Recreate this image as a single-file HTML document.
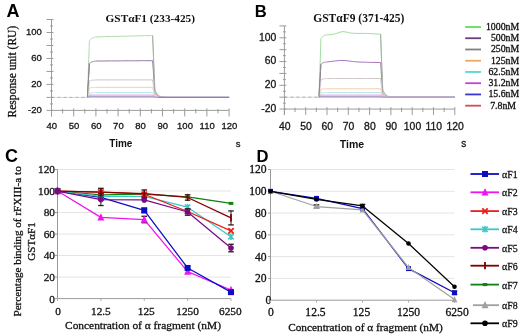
<!DOCTYPE html>
<html><head><meta charset="utf-8"><style>html,body{margin:0;padding:0;background:#fff;overflow:hidden;}svg{display:block;will-change:transform;} text:not([font-weight]){stroke:#111;stroke-width:0.3px;}</style></head>
<body><svg width="520" height="334" viewBox="0 0 520 334">
<rect width="520" height="334" fill="#fff"/>
<path d="M87.0,97.4 87.0,97.4 87.2,97.4 87.4,97.4 87.6,91.1 87.8,84.9 88.1,78.7 88.3,72.4 88.5,66.2 88.7,59.9 89.0,53.7 89.2,47.5 89.2,45.6 89.4,41.2 89.6,40.8 89.8,40.4 90.1,40.1 90.3,39.8 90.5,39.5 90.7,39.3 90.9,39.0 91.2,38.8 91.4,38.7 91.5,38.6 91.6,38.5 91.8,38.3 92.1,38.2 92.3,38.1 92.5,38.0 92.7,37.9 92.9,37.8 93.2,37.7 93.4,37.6 93.6,37.5 93.7,37.5 93.8,37.5 94.1,37.4 94.3,37.3 94.5,37.3 94.7,37.2 94.9,37.2 95.2,37.2 95.4,37.1 95.6,37.1 95.8,37.1 95.9,37.1 96.1,37.0 98.1,36.9 100.3,36.8 102.6,36.7 104.8,36.6 107.0,36.6 109.2,36.5 111.4,36.5 113.7,36.4 115.9,36.4 118.1,36.3 120.3,36.3 122.5,36.2 124.8,36.2 127.0,36.1 129.2,36.1 131.4,36.0 133.6,36.0 135.9,35.9 138.1,35.8 140.3,35.8 142.5,35.7 144.7,35.7 147.0,35.6 149.2,35.6 151.4,35.5 152.2,35.5 152.4,35.5 152.6,35.5 152.8,41.0 153.1,46.4 153.3,51.8 153.5,57.3 153.6,60.0 153.7,62.7 154.0,68.2 154.2,73.6 154.4,79.1 154.6,84.5 154.8,90.0 155.1,90.5 155.3,91.0 155.5,91.5 155.7,91.9 155.8,92.1 156.0,92.3 156.2,92.7 156.4,93.1 156.6,93.4 156.8,93.7 157.1,94.0 157.3,94.2 157.5,94.4 157.7,94.7 157.9,94.9 158.1,95.0 158.2,95.1 158.4,95.2 158.6,95.4 158.8,95.5 159.1,95.7 159.3,95.8 159.5,95.9 159.7,96.0 159.9,96.1 160.2,96.2 160.3,96.3 160.4,96.3 160.6,96.4 160.8,96.5 161.1,96.5 161.3,96.6 161.5,96.7 162.5,96.9 162.6,96.9 163.7,97.1 164.7,97.2 164.8,97.2 165.9,97.2 166.9,97.3 167.1,97.3 168.2,97.3 169.2,97.3 169.3,97.3 170.4,97.4 171.4,97.4 171.5,97.4 172.6,97.4 173.6,97.4 173.7,97.4 175.8,97.4 178.0,97.4 180.3,97.4 182.5,97.4 184.7,97.4 186.9,97.4 189.1,97.4 191.4,97.4 193.6,97.4 195.8,97.4 198.0,97.4 200.2,97.4 202.5,97.4 204.7,97.4 206.9,97.4 209.1,97.4 211.3,97.4 213.6,97.4 215.8,97.4 218.0,97.4 220.2,97.4 222.4,97.4 224.7,97.4 226.9,97.4 229.1,97.4" fill="none" stroke="#acdcac" stroke-width="1"/>
<path d="M87.0,97.4 87.0,97.4 87.2,97.4 87.4,97.4 87.6,93.6 87.8,89.9 88.1,86.1 88.3,82.4 88.5,78.6 88.7,74.9 89.0,71.1 89.2,67.3 89.2,66.2 89.4,63.6 89.6,63.3 89.8,63.1 90.1,62.9 90.3,62.7 90.5,62.6 90.7,62.4 90.9,62.3 91.2,62.2 91.4,62.1 91.5,62.0 91.6,62.0 91.8,61.9 92.1,61.8 92.3,61.7 92.5,61.7 92.7,61.6 92.9,61.5 93.2,61.5 93.4,61.4 93.6,61.4 93.7,61.4 93.8,61.4 94.1,61.3 94.3,61.3 94.5,61.3 94.7,61.2 94.9,61.2 95.2,61.2 95.4,61.2 95.6,61.2 95.8,61.1 95.9,61.1 96.1,61.1 98.1,61.0 100.3,61.0 102.6,61.0 104.8,61.0 107.0,60.9 109.2,60.9 111.4,60.9 113.7,60.9 115.9,60.9 118.1,60.9 120.3,60.9 122.5,60.8 124.8,60.8 127.0,60.8 129.2,60.8 131.4,60.8 133.6,60.8 135.9,60.8 138.1,60.8 140.3,60.7 142.5,60.7 144.7,60.7 147.0,60.7 149.2,60.7 151.4,60.7 152.2,60.7 152.4,60.7 152.6,60.7 152.8,63.9 153.1,67.1 153.3,70.4 153.5,73.6 153.6,75.2 153.7,76.8 154.0,80.1 154.2,83.3 154.4,86.5 154.6,89.8 154.8,93.0 155.1,93.3 155.3,93.6 155.5,93.9 155.7,94.2 155.8,94.3 156.0,94.4 156.2,94.6 156.4,94.8 156.6,95.0 156.8,95.2 157.1,95.4 157.3,95.5 157.5,95.6 157.7,95.8 157.9,95.9 158.1,96.0 158.2,96.0 158.4,96.1 158.6,96.2 158.8,96.3 159.1,96.4 159.3,96.5 159.5,96.5 159.7,96.6 159.9,96.6 160.2,96.7 160.3,96.7 160.4,96.8 160.6,96.8 160.8,96.8 161.1,96.9 161.3,96.9 161.5,97.0 162.5,97.1 162.6,97.1 163.7,97.2 164.7,97.3 164.8,97.3 165.9,97.3 166.9,97.3 167.1,97.3 168.2,97.4 169.2,97.4 169.3,97.4 170.4,97.4 171.4,97.4 171.5,97.4 172.6,97.4 173.6,97.4 173.7,97.4 175.8,97.4 178.0,97.4 180.3,97.4 182.5,97.4 184.7,97.4 186.9,97.4 189.1,97.4 191.4,97.4 193.6,97.4 195.8,97.4 198.0,97.4 200.2,97.4 202.5,97.4 204.7,97.4 206.9,97.4 209.1,97.4 211.3,97.4 213.6,97.4 215.8,97.4 218.0,97.4 220.2,97.4 222.4,97.4 224.7,97.4 226.9,97.4 229.1,97.4" fill="none" stroke="#9078a8" stroke-width="1"/>
<path d="M87.0,97.4 87.0,97.4 87.2,97.4 87.4,97.4 87.6,95.6 87.8,93.8 88.1,92.0 88.3,90.2 88.5,88.3 88.7,86.5 89.0,84.7 89.2,82.9 89.2,82.4 89.4,81.1 89.6,81.0 89.8,80.9 90.1,80.8 90.3,80.7 90.5,80.6 90.7,80.6 90.9,80.5 91.2,80.4 91.4,80.4 91.5,80.4 91.6,80.3 91.8,80.3 92.1,80.2 92.3,80.2 92.5,80.2 92.7,80.2 92.9,80.1 93.2,80.1 93.4,80.1 93.6,80.1 93.7,80.1 93.8,80.0 94.1,80.0 94.3,80.0 94.5,80.0 94.7,80.0 94.9,80.0 95.2,80.0 95.4,80.0 95.6,80.0 95.8,79.9 95.9,79.9 96.1,79.9 98.1,79.9 100.3,79.9 102.6,79.9 104.8,79.9 107.0,79.9 109.2,79.9 111.4,79.9 113.7,79.9 115.9,79.9 118.1,79.9 120.3,79.9 122.5,79.9 124.8,79.9 127.0,79.9 129.2,79.9 131.4,79.9 133.6,79.9 135.9,79.9 138.1,79.9 140.3,79.9 142.5,79.9 144.7,79.9 147.0,79.9 149.2,79.9 151.4,79.9 152.2,79.9 152.4,79.9 152.6,79.9 152.8,81.4 153.1,83.0 153.3,84.5 153.5,86.0 153.6,86.8 153.7,87.6 154.0,89.1 154.2,90.7 154.4,92.2 154.6,93.8 154.8,95.3 155.1,95.5 155.3,95.6 155.5,95.7 155.7,95.9 155.8,95.9 156.0,96.0 156.2,96.1 156.4,96.2 156.6,96.3 156.8,96.3 157.1,96.4 157.3,96.5 157.5,96.6 157.7,96.6 157.9,96.7 158.1,96.7 158.2,96.7 158.4,96.8 158.6,96.8 158.8,96.9 159.1,96.9 159.3,96.9 159.5,97.0 159.7,97.0 159.9,97.0 160.2,97.1 160.3,97.1 160.4,97.1 160.6,97.1 160.8,97.1 161.1,97.2 161.3,97.2 161.5,97.2 162.5,97.3 162.6,97.3 163.7,97.3 164.7,97.3 164.8,97.3 165.9,97.4 166.9,97.4 167.1,97.4 168.2,97.4 169.2,97.4 169.3,97.4 170.4,97.4 171.4,97.4 171.5,97.4 172.6,97.4 173.6,97.4 173.7,97.4 175.8,97.4 178.0,97.4 180.3,97.4 182.5,97.4 184.7,97.4 186.9,97.4 189.1,97.4 191.4,97.4 193.6,97.4 195.8,97.4 198.0,97.4 200.2,97.4 202.5,97.4 204.7,97.4 206.9,97.4 209.1,97.4 211.3,97.4 213.6,97.4 215.8,97.4 218.0,97.4 220.2,97.4 222.4,97.4 224.7,97.4 226.9,97.4 229.1,97.4" fill="none" stroke="#ccc4c4" stroke-width="1"/>
<path d="M87.0,97.4 87.0,97.4 87.2,97.4 87.4,97.4 87.6,96.4 87.8,95.3 88.1,94.3 88.3,93.2 88.5,92.2 88.7,91.2 89.0,90.1 89.2,89.1 89.2,88.8 89.4,88.0 89.6,88.0 89.8,87.9 90.1,87.9 90.3,87.8 90.5,87.8 90.7,87.7 90.9,87.7 91.2,87.7 91.4,87.6 91.5,87.6 91.6,87.6 91.8,87.6 92.1,87.6 92.3,87.5 92.5,87.5 92.7,87.5 92.9,87.5 93.2,87.5 93.4,87.5 93.6,87.4 93.7,87.4 93.8,87.4 94.1,87.4 94.3,87.4 94.5,87.4 94.7,87.4 94.9,87.4 95.2,87.4 95.4,87.4 95.6,87.4 95.8,87.4 95.9,87.4 96.1,87.4 98.1,87.4 100.3,87.3 102.6,87.3 104.8,87.3 107.0,87.3 109.2,87.3 111.4,87.3 113.7,87.3 115.9,87.3 118.1,87.3 120.3,87.3 122.5,87.3 124.8,87.3 127.0,87.3 129.2,87.3 131.4,87.3 133.6,87.3 135.9,87.3 138.1,87.3 140.3,87.3 142.5,87.3 144.7,87.3 147.0,87.3 149.2,87.3 151.4,87.3 152.2,87.3 152.4,87.3 152.6,87.3 152.8,88.2 153.1,89.1 153.3,90.0 153.5,90.9 153.6,91.3 153.7,91.8 154.0,92.7 154.2,93.5 154.4,94.4 154.6,95.3 154.8,96.2 155.1,96.3 155.3,96.4 155.5,96.4 155.7,96.5 155.8,96.5 156.0,96.6 156.2,96.6 156.4,96.7 156.6,96.7 156.8,96.8 157.1,96.8 157.3,96.9 157.5,96.9 157.7,97.0 157.9,97.0 158.1,97.0 158.2,97.0 158.4,97.0 158.6,97.1 158.8,97.1 159.1,97.1 159.3,97.1 159.5,97.2 159.7,97.2 159.9,97.2 160.2,97.2 160.3,97.2 160.4,97.2 160.6,97.2 160.8,97.2 161.1,97.3 161.3,97.3 161.5,97.3 162.5,97.3 162.6,97.3 163.7,97.3 164.7,97.4 164.8,97.4 165.9,97.4 166.9,97.4 167.1,97.4 168.2,97.4 169.2,97.4 169.3,97.4 170.4,97.4 171.4,97.4 171.5,97.4 172.6,97.4 173.6,97.4 173.7,97.4 175.8,97.4 178.0,97.4 180.3,97.4 182.5,97.4 184.7,97.4 186.9,97.4 189.1,97.4 191.4,97.4 193.6,97.4 195.8,97.4 198.0,97.4 200.2,97.4 202.5,97.4 204.7,97.4 206.9,97.4 209.1,97.4 211.3,97.4 213.6,97.4 215.8,97.4 218.0,97.4 220.2,97.4 222.4,97.4 224.7,97.4 226.9,97.4 229.1,97.4" fill="none" stroke="#f2cca8" stroke-width="1"/>
<path d="M87.0,97.4 87.0,97.4 87.2,97.4 87.4,97.4 87.6,96.9 87.8,96.4 88.1,95.9 88.3,95.4 88.5,94.9 88.7,94.4 89.0,93.9 89.2,93.4 89.2,93.3 89.4,92.9 89.6,92.9 89.8,92.9 90.1,92.8 90.3,92.8 90.5,92.8 90.7,92.8 90.9,92.8 91.2,92.7 91.4,92.7 91.5,92.7 91.6,92.7 91.8,92.7 92.1,92.7 92.3,92.7 92.5,92.7 92.7,92.7 92.9,92.7 93.2,92.7 93.4,92.7 93.6,92.6 93.7,92.6 93.8,92.6 94.1,92.6 94.3,92.6 94.5,92.6 94.7,92.6 94.9,92.6 95.2,92.6 95.4,92.6 95.6,92.6 95.8,92.6 95.9,92.6 96.1,92.6 98.1,92.6 100.3,92.6 102.6,92.6 104.8,92.6 107.0,92.6 109.2,92.6 111.4,92.6 113.7,92.6 115.9,92.6 118.1,92.6 120.3,92.6 122.5,92.6 124.8,92.6 127.0,92.6 129.2,92.6 131.4,92.6 133.6,92.6 135.9,92.6 138.1,92.6 140.3,92.6 142.5,92.6 144.7,92.6 147.0,92.6 149.2,92.6 151.4,92.6 152.2,92.6 152.4,92.6 152.6,92.6 152.8,93.0 153.1,93.4 153.3,93.9 153.5,94.3 153.6,94.5 153.7,94.7 154.0,95.1 154.2,95.6 154.4,96.0 154.6,96.4 154.8,96.8 155.1,96.9 155.3,96.9 155.5,96.9 155.7,97.0 155.8,97.0 156.0,97.0 156.2,97.0 156.4,97.1 156.6,97.1 156.8,97.1 157.1,97.1 157.3,97.2 157.5,97.2 157.7,97.2 157.9,97.2 158.1,97.2 158.2,97.2 158.4,97.2 158.6,97.2 158.8,97.3 159.1,97.3 159.3,97.3 159.5,97.3 159.7,97.3 159.9,97.3 160.2,97.3 160.3,97.3 160.4,97.3 160.6,97.3 160.8,97.3 161.1,97.3 161.3,97.3 161.5,97.3 162.5,97.4 162.6,97.4 163.7,97.4 164.7,97.4 164.8,97.4 165.9,97.4 166.9,97.4 167.1,97.4 168.2,97.4 169.2,97.4 169.3,97.4 170.4,97.4 171.4,97.4 171.5,97.4 172.6,97.4 173.6,97.4 173.7,97.4 175.8,97.4 178.0,97.4 180.3,97.4 182.5,97.4 184.7,97.4 186.9,97.4 189.1,97.4 191.4,97.4 193.6,97.4 195.8,97.4 198.0,97.4 200.2,97.4 202.5,97.4 204.7,97.4 206.9,97.4 209.1,97.4 211.3,97.4 213.6,97.4 215.8,97.4 218.0,97.4 220.2,97.4 222.4,97.4 224.7,97.4 226.9,97.4 229.1,97.4" fill="none" stroke="#ace6e6" stroke-width="1"/>
<path d="M87.0,97.4 87.0,97.4 87.2,97.4 87.4,97.4 87.6,97.2 87.8,96.9 88.1,96.7 88.3,96.4 88.5,96.2 88.7,95.9 89.0,95.7 89.2,95.4 89.2,95.3 89.4,95.2 89.6,95.2 89.8,95.1 90.1,95.1 90.3,95.1 90.5,95.1 90.7,95.1 90.9,95.1 91.2,95.1 91.4,95.1 91.5,95.1 91.6,95.1 91.8,95.1 92.1,95.0 92.3,95.0 92.5,95.0 92.7,95.0 92.9,95.0 93.2,95.0 93.4,95.0 93.6,95.0 93.7,95.0 93.8,95.0 94.1,95.0 94.3,95.0 94.5,95.0 94.7,95.0 94.9,95.0 95.2,95.0 95.4,95.0 95.6,95.0 95.8,95.0 95.9,95.0 96.1,95.0 98.1,95.0 100.3,95.0 102.6,95.0 104.8,95.0 107.0,95.0 109.2,95.0 111.4,95.0 113.7,95.0 115.9,95.0 118.1,95.0 120.3,95.0 122.5,95.0 124.8,95.0 127.0,95.0 129.2,95.0 131.4,95.0 133.6,95.0 135.9,95.0 138.1,95.0 140.3,95.0 142.5,95.0 144.7,95.0 147.0,95.0 149.2,95.0 151.4,95.0 152.2,95.0 152.4,95.0 152.6,95.0 152.8,95.2 153.1,95.4 153.3,95.6 153.5,95.8 153.6,95.9 153.7,96.1 154.0,96.3 154.2,96.5 154.4,96.7 154.6,96.9 154.8,97.1 155.1,97.1 155.3,97.2 155.5,97.2 155.7,97.2 155.8,97.2 156.0,97.2 156.2,97.2 156.4,97.2 156.6,97.2 156.8,97.3 157.1,97.3 157.3,97.3 157.5,97.3 157.7,97.3 157.9,97.3 158.1,97.3 158.2,97.3 158.4,97.3 158.6,97.3 158.8,97.3 159.1,97.3 159.3,97.3 159.5,97.3 159.7,97.3 159.9,97.4 160.2,97.4 160.3,97.4 160.4,97.4 160.6,97.4 160.8,97.4 161.1,97.4 161.3,97.4 161.5,97.4 162.5,97.4 162.6,97.4 163.7,97.4 164.7,97.4 164.8,97.4 165.9,97.4 166.9,97.4 167.1,97.4 168.2,97.4 169.2,97.4 169.3,97.4 170.4,97.4 171.4,97.4 171.5,97.4 172.6,97.4 173.6,97.4 173.7,97.4 175.8,97.4 178.0,97.4 180.3,97.4 182.5,97.4 184.7,97.4 186.9,97.4 189.1,97.4 191.4,97.4 193.6,97.4 195.8,97.4 198.0,97.4 200.2,97.4 202.5,97.4 204.7,97.4 206.9,97.4 209.1,97.4 211.3,97.4 213.6,97.4 215.8,97.4 218.0,97.4 220.2,97.4 222.4,97.4 224.7,97.4 226.9,97.4 229.1,97.4" fill="none" stroke="#e4b0ea" stroke-width="1.2"/>
<path d="M87.0,97.4 87.0,97.4 87.2,97.4 87.4,97.4 87.6,97.3 87.8,97.2 88.1,97.1 88.3,97.0 88.5,96.9 88.7,96.8 89.0,96.7 89.2,96.6 89.2,96.6 89.4,96.6 89.6,96.5 89.8,96.5 90.1,96.5 90.3,96.5 90.5,96.5 90.7,96.5 90.9,96.5 91.2,96.5 91.4,96.5 91.5,96.5 91.6,96.5 91.8,96.5 92.1,96.5 92.3,96.5 92.5,96.5 92.7,96.5 92.9,96.5 93.2,96.5 93.4,96.5 93.6,96.5 93.7,96.5 93.8,96.5 94.1,96.5 94.3,96.5 94.5,96.5 94.7,96.5 94.9,96.5 95.2,96.5 95.4,96.5 95.6,96.5 95.8,96.5 95.9,96.5 96.1,96.5 98.1,96.5 100.3,96.5 102.6,96.5 104.8,96.5 107.0,96.5 109.2,96.5 111.4,96.5 113.7,96.5 115.9,96.5 118.1,96.5 120.3,96.5 122.5,96.5 124.8,96.5 127.0,96.5 129.2,96.5 131.4,96.5 133.6,96.5 135.9,96.5 138.1,96.5 140.3,96.5 142.5,96.5 144.7,96.5 147.0,96.5 149.2,96.5 151.4,96.5 152.2,96.5 152.4,96.5 152.6,96.5 152.8,96.6 153.1,96.7 153.3,96.7 153.5,96.8 153.6,96.9 153.7,96.9 154.0,97.0 154.2,97.1 154.4,97.1 154.6,97.2 154.8,97.3 155.1,97.3 155.3,97.3 155.5,97.3 155.7,97.3 155.8,97.3 156.0,97.3 156.2,97.3 156.4,97.3 156.6,97.3 156.8,97.3 157.1,97.3 157.3,97.4 157.5,97.4 157.7,97.4 157.9,97.4 158.1,97.4 158.2,97.4 158.4,97.4 158.6,97.4 158.8,97.4 159.1,97.4 159.3,97.4 159.5,97.4 159.7,97.4 159.9,97.4 160.2,97.4 160.3,97.4 160.4,97.4 160.6,97.4 160.8,97.4 161.1,97.4 161.3,97.4 161.5,97.4 162.5,97.4 162.6,97.4 163.7,97.4 164.7,97.4 164.8,97.4 165.9,97.4 166.9,97.4 167.1,97.4 168.2,97.4 169.2,97.4 169.3,97.4 170.4,97.4 171.4,97.4 171.5,97.4 172.6,97.4 173.6,97.4 173.7,97.4 175.8,97.4 178.0,97.4 180.3,97.4 182.5,97.4 184.7,97.4 186.9,97.4 189.1,97.4 191.4,97.4 193.6,97.4 195.8,97.4 198.0,97.4 200.2,97.4 202.5,97.4 204.7,97.4 206.9,97.4 209.1,97.4 211.3,97.4 213.6,97.4 215.8,97.4 218.0,97.4 220.2,97.4 222.4,97.4 224.7,97.4 226.9,97.4 229.1,97.4" fill="none" stroke="#aaa2dc" stroke-width="1.3"/>
<path d="M87.0,97.4 87.0,97.4 87.2,97.4 87.4,97.4 87.6,97.4 87.8,97.3 88.1,97.3 88.3,97.3 88.5,97.3 88.7,97.2 89.0,97.2 89.2,97.2 89.2,97.2 89.4,97.2 89.6,97.2 89.8,97.2 90.1,97.2 90.3,97.2 90.5,97.2 90.7,97.2 90.9,97.1 91.2,97.1 91.4,97.1 91.5,97.1 91.6,97.1 91.8,97.1 92.1,97.1 92.3,97.1 92.5,97.1 92.7,97.1 92.9,97.1 93.2,97.1 93.4,97.1 93.6,97.1 93.7,97.1 93.8,97.1 94.1,97.1 94.3,97.1 94.5,97.1 94.7,97.1 94.9,97.1 95.2,97.1 95.4,97.1 95.6,97.1 95.8,97.1 95.9,97.1 96.1,97.1 98.1,97.1 100.3,97.1 102.6,97.1 104.8,97.1 107.0,97.1 109.2,97.1 111.4,97.1 113.7,97.1 115.9,97.1 118.1,97.1 120.3,97.1 122.5,97.1 124.8,97.1 127.0,97.1 129.2,97.1 131.4,97.1 133.6,97.1 135.9,97.1 138.1,97.1 140.3,97.1 142.5,97.1 144.7,97.1 147.0,97.1 149.2,97.1 151.4,97.1 152.2,97.1 152.4,97.1 152.6,97.1 152.8,97.2 153.1,97.2 153.3,97.2 153.5,97.2 153.6,97.2 153.7,97.3 154.0,97.3 154.2,97.3 154.4,97.3 154.6,97.3 154.8,97.4 155.1,97.4 155.3,97.4 155.5,97.4 155.7,97.4 155.8,97.4 156.0,97.4 156.2,97.4 156.4,97.4 156.6,97.4 156.8,97.4 157.1,97.4 157.3,97.4 157.5,97.4 157.7,97.4 157.9,97.4 158.1,97.4 158.2,97.4 158.4,97.4 158.6,97.4 158.8,97.4 159.1,97.4 159.3,97.4 159.5,97.4 159.7,97.4 159.9,97.4 160.2,97.4 160.3,97.4 160.4,97.4 160.6,97.4 160.8,97.4 161.1,97.4 161.3,97.4 161.5,97.4 162.5,97.4 162.6,97.4 163.7,97.4 164.7,97.4 164.8,97.4 165.9,97.4 166.9,97.4 167.1,97.4 168.2,97.4 169.2,97.4 169.3,97.4 170.4,97.4 171.4,97.4 171.5,97.4 172.6,97.4 173.6,97.4 173.7,97.4 175.8,97.4 178.0,97.4 180.3,97.4 182.5,97.4 184.7,97.4 186.9,97.4 189.1,97.4 191.4,97.4 193.6,97.4 195.8,97.4 198.0,97.4 200.2,97.4 202.5,97.4 204.7,97.4 206.9,97.4 209.1,97.4 211.3,97.4 213.6,97.4 215.8,97.4 218.0,97.4 220.2,97.4 222.4,97.4 224.7,97.4 226.9,97.4 229.1,97.4" fill="none" stroke="#c0a8b8" stroke-width="1"/>
<path d="M87.0,97.4 87.0,97.4 87.2,97.4 87.4,97.4 87.6,93.6 87.8,89.9 88.1,86.1 88.3,82.4 88.5,78.6 88.7,74.9 89.0,71.1 89.2,67.3 89.2,66.2 89.4,63.6" fill="none" stroke="#888888" stroke-width="1"/>
<path d="M152.6,35.5 152.8,41.0 153.1,46.4 153.3,51.8 153.5,57.3 153.6,60.0 153.7,62.7 154.0,68.2 154.2,73.6 154.4,79.1 154.6,84.5 154.8,90.0 155.1,90.5 155.3,91.0 155.5,91.5 155.7,91.9 155.8,92.1 156.0,92.3 156.2,92.7 156.4,93.1 156.6,93.4 156.8,93.7 157.1,94.0 157.3,94.2 157.5,94.4 157.7,94.7 157.9,94.9 158.1,95.0 158.2,95.1" fill="none" stroke="#a8aca8" stroke-width="1"/>
<line x1="51.50" y1="97.40" x2="87.40" y2="97.40" stroke="#d4e4d4" stroke-width="1" />
<line x1="51.50" y1="97.40" x2="87.40" y2="97.40" stroke="#b0b0b0" stroke-width="1" stroke-dasharray="3 3"/>
<line x1="158.17" y1="97.40" x2="229.10" y2="97.40" stroke="#8c8094" stroke-width="1" />
<line x1="51.50" y1="19.52" x2="51.50" y2="116.38" stroke="#9c9c9c" stroke-width="1" />
<line x1="51.50" y1="110.38" x2="229.10" y2="110.38" stroke="#9c9c9c" stroke-width="1" />
<line x1="46.50" y1="110.38" x2="53.50" y2="110.38" stroke="#9c9c9c" stroke-width="1" />
<line x1="50.00" y1="103.89" x2="53.00" y2="103.89" stroke="#9c9c9c" stroke-width="1" />
<line x1="46.50" y1="97.40" x2="53.50" y2="97.40" stroke="#9c9c9c" stroke-width="1" />
<line x1="50.00" y1="90.91" x2="53.00" y2="90.91" stroke="#9c9c9c" stroke-width="1" />
<line x1="46.50" y1="84.42" x2="53.50" y2="84.42" stroke="#9c9c9c" stroke-width="1" />
<line x1="50.00" y1="77.93" x2="53.00" y2="77.93" stroke="#9c9c9c" stroke-width="1" />
<line x1="46.50" y1="71.44" x2="53.50" y2="71.44" stroke="#9c9c9c" stroke-width="1" />
<line x1="50.00" y1="64.95" x2="53.00" y2="64.95" stroke="#9c9c9c" stroke-width="1" />
<line x1="46.50" y1="58.46" x2="53.50" y2="58.46" stroke="#9c9c9c" stroke-width="1" />
<line x1="50.00" y1="51.97" x2="53.00" y2="51.97" stroke="#9c9c9c" stroke-width="1" />
<line x1="46.50" y1="45.48" x2="53.50" y2="45.48" stroke="#9c9c9c" stroke-width="1" />
<line x1="50.00" y1="38.99" x2="53.00" y2="38.99" stroke="#9c9c9c" stroke-width="1" />
<line x1="46.50" y1="32.50" x2="53.50" y2="32.50" stroke="#9c9c9c" stroke-width="1" />
<line x1="50.00" y1="26.01" x2="53.00" y2="26.01" stroke="#9c9c9c" stroke-width="1" />
<line x1="46.50" y1="19.52" x2="53.50" y2="19.52" stroke="#9c9c9c" stroke-width="1" />
<text x="41.80" y="35.10" font-family='"Liberation Sans", sans-serif' font-size="9.5" text-anchor="end" fill="#1a1a1a" >100</text>
<text x="41.80" y="61.06" font-family='"Liberation Sans", sans-serif' font-size="9.5" text-anchor="end" fill="#1a1a1a" >60</text>
<text x="41.80" y="87.02" font-family='"Liberation Sans", sans-serif' font-size="9.5" text-anchor="end" fill="#1a1a1a" >20</text>
<text x="41.80" y="112.98" font-family='"Liberation Sans", sans-serif' font-size="9.5" text-anchor="end" fill="#1a1a1a" >-20</text>
<line x1="51.50" y1="108.38" x2="51.50" y2="116.38" stroke="#9c9c9c" stroke-width="1" />
<text x="51.80" y="129.10" font-family='"Liberation Sans", sans-serif' font-size="9.5" text-anchor="middle" fill="#1a1a1a" >40</text>
<line x1="62.60" y1="108.88" x2="62.60" y2="113.38" stroke="#9c9c9c" stroke-width="1" />
<line x1="73.70" y1="108.38" x2="73.70" y2="116.38" stroke="#9c9c9c" stroke-width="1" />
<text x="74.00" y="129.10" font-family='"Liberation Sans", sans-serif' font-size="9.5" text-anchor="middle" fill="#1a1a1a" >50</text>
<line x1="84.80" y1="108.88" x2="84.80" y2="113.38" stroke="#9c9c9c" stroke-width="1" />
<line x1="95.90" y1="108.38" x2="95.90" y2="116.38" stroke="#9c9c9c" stroke-width="1" />
<text x="96.20" y="129.10" font-family='"Liberation Sans", sans-serif' font-size="9.5" text-anchor="middle" fill="#1a1a1a" >60</text>
<line x1="107.00" y1="108.88" x2="107.00" y2="113.38" stroke="#9c9c9c" stroke-width="1" />
<line x1="118.10" y1="108.38" x2="118.10" y2="116.38" stroke="#9c9c9c" stroke-width="1" />
<text x="118.40" y="129.10" font-family='"Liberation Sans", sans-serif' font-size="9.5" text-anchor="middle" fill="#1a1a1a" >70</text>
<line x1="129.20" y1="108.88" x2="129.20" y2="113.38" stroke="#9c9c9c" stroke-width="1" />
<line x1="140.30" y1="108.38" x2="140.30" y2="116.38" stroke="#9c9c9c" stroke-width="1" />
<text x="140.60" y="129.10" font-family='"Liberation Sans", sans-serif' font-size="9.5" text-anchor="middle" fill="#1a1a1a" >80</text>
<line x1="151.40" y1="108.88" x2="151.40" y2="113.38" stroke="#9c9c9c" stroke-width="1" />
<line x1="162.50" y1="108.38" x2="162.50" y2="116.38" stroke="#9c9c9c" stroke-width="1" />
<text x="162.80" y="129.10" font-family='"Liberation Sans", sans-serif' font-size="9.5" text-anchor="middle" fill="#1a1a1a" >90</text>
<line x1="173.60" y1="108.88" x2="173.60" y2="113.38" stroke="#9c9c9c" stroke-width="1" />
<line x1="184.70" y1="108.38" x2="184.70" y2="116.38" stroke="#9c9c9c" stroke-width="1" />
<text x="185.00" y="129.10" font-family='"Liberation Sans", sans-serif' font-size="9.5" text-anchor="middle" fill="#1a1a1a" >100</text>
<line x1="195.80" y1="108.88" x2="195.80" y2="113.38" stroke="#9c9c9c" stroke-width="1" />
<line x1="206.90" y1="108.38" x2="206.90" y2="116.38" stroke="#9c9c9c" stroke-width="1" />
<text x="207.20" y="129.10" font-family='"Liberation Sans", sans-serif' font-size="9.5" text-anchor="middle" fill="#1a1a1a" >110</text>
<line x1="218.00" y1="108.88" x2="218.00" y2="113.38" stroke="#9c9c9c" stroke-width="1" />
<line x1="229.10" y1="108.38" x2="229.10" y2="116.38" stroke="#9c9c9c" stroke-width="1" />
<text x="229.40" y="129.10" font-family='"Liberation Sans", sans-serif' font-size="9.5" text-anchor="middle" fill="#1a1a1a" >120</text>
<text x="120.80" y="146.80" font-family='"Liberation Sans", sans-serif' font-size="10" font-weight="bold" text-anchor="middle" fill="#111" >Time</text>
<text x="238.00" y="146.50" font-family='"Liberation Sans", sans-serif' font-size="9.5" text-anchor="middle" fill="#222" >s</text>
<text x="150.30" y="22.30" font-family='"Liberation Serif", serif' font-size="11.3" font-weight="bold" text-anchor="middle" fill="#111" >GSTαF1 (233-425)</text>
<text x="6.40" y="16.60" font-family='"Liberation Sans", sans-serif' font-size="18" font-weight="bold" fill="#000" >A</text>
<path d="M318.5,97.2 318.6,97.2 318.8,97.2 319.0,97.0 319.2,90.5 319.4,84.1 319.6,77.6 319.8,71.2 320.1,64.7 320.3,58.3 320.5,51.8 320.6,48.0 320.7,45.4 320.9,39.0 321.1,38.5 321.3,38.2 321.5,37.8 321.8,37.5 322.0,37.2 322.2,37.0 322.4,36.8 322.6,36.6 322.7,36.4 322.8,36.4 323.0,36.2 323.3,36.0 323.5,35.9 323.7,35.8 323.9,35.7 324.1,35.6 324.3,35.5 324.5,35.4 324.7,35.3 324.9,35.3 325.0,35.2 325.2,35.2 325.4,35.1 325.6,35.1 325.8,35.0 326.0,35.0 326.2,34.9 326.4,34.9 326.7,34.9 326.9,34.9 327.0,34.8 327.1,34.8 327.3,34.8 329.1,34.7 331.3,34.6 333.4,34.2 335.5,33.7 337.6,33.0 339.8,32.3 341.9,31.7 344.0,31.7 346.2,32.1 348.3,32.5 350.4,33.0 352.6,33.2 354.7,33.3 356.8,33.4 358.9,33.4 361.1,33.4 363.2,33.4 365.3,33.4 367.5,33.5 369.6,33.6 371.7,33.7 373.9,33.8 376.0,34.0 378.1,34.1 380.1,34.2 380.2,34.2 380.4,34.2 380.6,34.2 380.8,39.7 381.0,45.3 381.2,50.8 381.4,56.4 381.6,61.9 381.8,67.5 382.1,73.0 382.3,78.5 382.4,81.3 382.5,84.1 382.7,89.6 382.9,90.2 383.1,90.7 383.3,91.2 383.6,91.6 383.8,92.1 384.0,92.4 384.2,92.8 384.4,93.1 384.5,93.3 384.6,93.4 384.8,93.7 385.0,94.0 385.3,94.2 385.5,94.4 385.7,94.6 385.9,94.8 386.1,95.0 386.3,95.2 386.5,95.3 386.6,95.4 386.7,95.4 387.0,95.6 387.2,95.7 387.4,95.8 387.6,95.9 387.8,96.0 388.0,96.1 388.2,96.2 388.5,96.3 388.7,96.3 388.8,96.4 388.9,96.4 389.1,96.4 390.2,96.7 390.9,96.8 391.2,96.9 392.3,97.0 393.0,97.0 393.3,97.0 394.4,97.1 395.2,97.1 395.5,97.1 396.5,97.1 397.3,97.2 397.6,97.2 398.7,97.2 399.4,97.2 399.7,97.2 400.8,97.2 401.5,97.2 403.7,97.2 405.8,97.2 407.9,97.2 410.1,97.2 412.2,97.2 414.3,97.2 416.5,97.2 418.6,97.2 420.7,97.2 422.8,97.2 425.0,97.2 427.1,97.2 429.2,97.2 431.4,97.2 433.5,97.2 435.6,97.2 437.8,97.2 439.9,97.2 442.0,97.2 444.1,97.2 446.3,97.2 448.4,97.2 450.5,97.2 452.7,97.2 454.8,97.2" fill="none" stroke="#a0dca0" stroke-width="1"/>
<path d="M318.5,97.2 318.6,97.2 318.8,97.2 319.0,96.4 319.2,92.9 319.4,89.3 319.6,85.7 319.8,82.2 320.1,78.6 320.3,75.0 320.5,71.5 320.6,69.3 320.7,67.9 320.9,64.4 321.1,64.1 321.3,63.9 321.5,63.7 321.8,63.5 322.0,63.4 322.2,63.2 322.4,63.1 322.6,63.0 322.7,62.9 322.8,62.9 323.0,62.8 323.3,62.7 323.5,62.6 323.7,62.6 323.9,62.5 324.1,62.4 324.3,62.4 324.5,62.3 324.7,62.3 324.9,62.2 325.0,62.2 325.2,62.2 325.4,62.1 325.6,62.1 325.8,62.1 326.0,62.0 326.2,62.0 326.4,62.0 326.7,61.9 326.9,61.9 327.0,61.9 327.1,61.9 327.3,61.9 329.1,61.7 331.3,61.4 333.4,61.2 335.5,60.9 337.6,60.7 339.8,60.5 341.9,60.4 344.0,60.5 346.2,60.7 348.3,60.9 350.4,61.2 352.6,61.5 354.7,61.7 356.8,61.9 358.9,62.0 361.1,62.1 363.2,62.2 365.3,62.2 367.5,62.3 369.6,62.3 371.7,62.4 373.9,62.4 376.0,62.4 378.1,62.5 380.1,62.5 380.2,62.5 380.4,62.5 380.6,62.5 380.8,65.6 381.0,68.6 381.2,71.7 381.4,74.7 381.6,77.8 381.8,80.8 382.1,83.9 382.3,86.9 382.4,88.5 382.5,90.0 382.7,93.0 382.9,93.3 383.1,93.6 383.3,93.9 383.6,94.1 383.8,94.4 384.0,94.6 384.2,94.8 384.4,95.0 384.5,95.0 384.6,95.1 384.8,95.3 385.0,95.4 385.3,95.5 385.5,95.7 385.7,95.8 385.9,95.9 386.1,96.0 386.3,96.1 386.5,96.2 386.6,96.2 386.7,96.2 387.0,96.3 387.2,96.4 387.4,96.4 387.6,96.5 387.8,96.5 388.0,96.6 388.2,96.6 388.5,96.7 388.7,96.7 388.8,96.7 388.9,96.8 389.1,96.8 390.2,96.9 390.9,97.0 391.2,97.0 392.3,97.1 393.0,97.1 393.3,97.1 394.4,97.1 395.2,97.2 395.5,97.2 396.5,97.2 397.3,97.2 397.6,97.2 398.7,97.2 399.4,97.2 399.7,97.2 400.8,97.2 401.5,97.2 403.7,97.2 405.8,97.2 407.9,97.2 410.1,97.2 412.2,97.2 414.3,97.2 416.5,97.2 418.6,97.2 420.7,97.2 422.8,97.2 425.0,97.2 427.1,97.2 429.2,97.2 431.4,97.2 433.5,97.2 435.6,97.2 437.8,97.2 439.9,97.2 442.0,97.2 444.1,97.2 446.3,97.2 448.4,97.2 450.5,97.2 452.7,97.2 454.8,97.2" fill="none" stroke="#a476b8" stroke-width="1"/>
<path d="M318.5,97.2 318.6,97.2 318.8,97.2 319.0,97.2 319.2,95.3 319.4,93.3 319.6,91.4 319.8,89.5 320.1,87.5 320.3,85.6 320.5,83.7 320.6,82.5 320.7,81.7 320.9,79.8 321.1,79.7 321.3,79.6 321.5,79.5 321.8,79.4 322.0,79.3 322.2,79.2 322.4,79.1 322.6,79.1 322.7,79.0 322.8,79.0 323.0,79.0 323.3,78.9 323.5,78.9 323.7,78.8 323.9,78.8 324.1,78.8 324.3,78.8 324.5,78.7 324.7,78.7 324.9,78.7 325.0,78.7 325.2,78.7 325.4,78.6 325.6,78.6 325.8,78.6 326.0,78.6 326.2,78.6 326.4,78.6 326.7,78.6 326.9,78.6 327.0,78.6 327.1,78.6 327.3,78.6 329.1,78.5 331.3,78.5 333.4,78.5 335.5,78.5 337.6,78.5 339.8,78.5 341.9,78.5 344.0,78.5 346.2,78.5 348.3,78.5 350.4,78.5 352.6,78.5 354.7,78.5 356.8,78.5 358.9,78.5 361.1,78.5 363.2,78.5 365.3,78.5 367.5,78.5 369.6,78.5 371.7,78.5 373.9,78.5 376.0,78.5 378.1,78.5 380.1,78.5 380.2,78.5 380.4,78.5 380.6,78.5 380.8,80.1 381.0,81.8 381.2,83.4 381.4,85.1 381.6,86.7 381.8,88.4 382.1,90.0 382.3,91.7 382.4,92.5 382.5,93.3 382.7,95.0 382.9,95.1 383.1,95.3 383.3,95.4 383.6,95.5 383.8,95.7 384.0,95.8 384.2,95.9 384.4,96.0 384.5,96.0 384.6,96.1 384.8,96.2 385.0,96.2 385.3,96.3 385.5,96.4 385.7,96.4 385.9,96.5 386.1,96.5 386.3,96.6 386.5,96.6 386.6,96.7 386.7,96.7 387.0,96.7 387.2,96.8 387.4,96.8 387.6,96.8 387.8,96.8 388.0,96.9 388.2,96.9 388.5,96.9 388.7,96.9 388.8,96.9 388.9,97.0 389.1,97.0 390.2,97.0 390.9,97.1 391.2,97.1 392.3,97.1 393.0,97.1 393.3,97.2 394.4,97.2 395.2,97.2 395.5,97.2 396.5,97.2 397.3,97.2 397.6,97.2 398.7,97.2 399.4,97.2 399.7,97.2 400.8,97.2 401.5,97.2 403.7,97.2 405.8,97.2 407.9,97.2 410.1,97.2 412.2,97.2 414.3,97.2 416.5,97.2 418.6,97.2 420.7,97.2 422.8,97.2 425.0,97.2 427.1,97.2 429.2,97.2 431.4,97.2 433.5,97.2 435.6,97.2 437.8,97.2 439.9,97.2 442.0,97.2 444.1,97.2 446.3,97.2 448.4,97.2 450.5,97.2 452.7,97.2 454.8,97.2" fill="none" stroke="#ccc4c4" stroke-width="1"/>
<path d="M318.5,97.2 318.6,97.2 318.8,97.2 319.0,97.2 319.2,96.3 319.4,95.5 319.6,94.6 319.8,93.7 320.1,92.8 320.3,92.0 320.5,91.1 320.6,90.6 320.7,90.2 320.9,89.4 321.1,89.3 321.3,89.2 321.5,89.2 321.8,89.2 322.0,89.1 322.2,89.1 322.4,89.1 322.6,89.0 322.7,89.0 322.8,89.0 323.0,89.0 323.3,89.0 323.5,88.9 323.7,88.9 323.9,88.9 324.1,88.9 324.3,88.9 324.5,88.9 324.7,88.9 324.9,88.9 325.0,88.9 325.2,88.8 325.4,88.8 325.6,88.8 325.8,88.8 326.0,88.8 326.2,88.8 326.4,88.8 326.7,88.8 326.9,88.8 327.0,88.8 327.1,88.8 327.3,88.8 329.1,88.8 331.3,88.8 333.4,88.8 335.5,88.8 337.6,88.8 339.8,88.8 341.9,88.8 344.0,88.8 346.2,88.8 348.3,88.8 350.4,88.8 352.6,88.8 354.7,88.8 356.8,88.8 358.9,88.8 361.1,88.8 363.2,88.8 365.3,88.8 367.5,88.8 369.6,88.8 371.7,88.8 373.9,88.8 376.0,88.8 378.1,88.8 380.1,88.8 380.2,88.8 380.4,88.8 380.6,88.8 380.8,89.5 381.0,90.2 381.2,91.0 381.4,91.7 381.6,92.5 381.8,93.2 382.1,94.0 382.3,94.7 382.4,95.1 382.5,95.4 382.7,96.2 382.9,96.3 383.1,96.3 383.3,96.4 383.6,96.5 383.8,96.5 384.0,96.6 384.2,96.6 384.4,96.7 384.5,96.7 384.6,96.7 384.8,96.7 385.0,96.8 385.3,96.8 385.5,96.8 385.7,96.9 385.9,96.9 386.1,96.9 386.3,96.9 386.5,96.9 386.6,97.0 386.7,97.0 387.0,97.0 387.2,97.0 387.4,97.0 387.6,97.0 387.8,97.0 388.0,97.1 388.2,97.1 388.5,97.1 388.7,97.1 388.8,97.1 388.9,97.1 389.1,97.1 390.2,97.1 390.9,97.1 391.2,97.2 392.3,97.2 393.0,97.2 393.3,97.2 394.4,97.2 395.2,97.2 395.5,97.2 396.5,97.2 397.3,97.2 397.6,97.2 398.7,97.2 399.4,97.2 399.7,97.2 400.8,97.2 401.5,97.2 403.7,97.2 405.8,97.2 407.9,97.2 410.1,97.2 412.2,97.2 414.3,97.2 416.5,97.2 418.6,97.2 420.7,97.2 422.8,97.2 425.0,97.2 427.1,97.2 429.2,97.2 431.4,97.2 433.5,97.2 435.6,97.2 437.8,97.2 439.9,97.2 442.0,97.2 444.1,97.2 446.3,97.2 448.4,97.2 450.5,97.2 452.7,97.2 454.8,97.2" fill="none" stroke="#f2cca8" stroke-width="1"/>
<path d="M318.5,97.2 318.6,97.2 318.8,97.2 319.0,97.2 319.2,96.7 319.4,96.2 319.6,95.8 319.8,95.3 320.1,94.8 320.3,94.3 320.5,93.8 320.6,93.6 320.7,93.4 320.9,92.9 321.1,92.9 321.3,92.8 321.5,92.8 321.8,92.8 322.0,92.8 322.2,92.7 322.4,92.7 322.6,92.7 322.7,92.7 322.8,92.7 323.0,92.7 323.3,92.7 323.5,92.7 323.7,92.7 323.9,92.6 324.1,92.6 324.3,92.6 324.5,92.6 324.7,92.6 324.9,92.6 325.0,92.6 325.2,92.6 325.4,92.6 325.6,92.6 325.8,92.6 326.0,92.6 326.2,92.6 326.4,92.6 326.7,92.6 326.9,92.6 327.0,92.6 327.1,92.6 327.3,92.6 329.1,92.6 331.3,92.6 333.4,92.6 335.5,92.6 337.6,92.6 339.8,92.6 341.9,92.6 344.0,92.6 346.2,92.6 348.3,92.6 350.4,92.6 352.6,92.6 354.7,92.6 356.8,92.6 358.9,92.6 361.1,92.6 363.2,92.6 365.3,92.6 367.5,92.6 369.6,92.6 371.7,92.6 373.9,92.6 376.0,92.6 378.1,92.6 380.1,92.6 380.2,92.6 380.4,92.6 380.6,92.6 380.8,93.0 381.0,93.4 381.2,93.8 381.4,94.2 381.6,94.6 381.8,95.0 382.1,95.4 382.3,95.8 382.4,96.0 382.5,96.2 382.7,96.6 382.9,96.7 383.1,96.7 383.3,96.8 383.6,96.8 383.8,96.8 384.0,96.8 384.2,96.9 384.4,96.9 384.5,96.9 384.6,96.9 384.8,96.9 385.0,97.0 385.3,97.0 385.5,97.0 385.7,97.0 385.9,97.0 386.1,97.0 386.3,97.0 386.5,97.1 386.6,97.1 386.7,97.1 387.0,97.1 387.2,97.1 387.4,97.1 387.6,97.1 387.8,97.1 388.0,97.1 388.2,97.1 388.5,97.1 388.7,97.1 388.8,97.1 388.9,97.1 389.1,97.1 390.2,97.2 390.9,97.2 391.2,97.2 392.3,97.2 393.0,97.2 393.3,97.2 394.4,97.2 395.2,97.2 395.5,97.2 396.5,97.2 397.3,97.2 397.6,97.2 398.7,97.2 399.4,97.2 399.7,97.2 400.8,97.2 401.5,97.2 403.7,97.2 405.8,97.2 407.9,97.2 410.1,97.2 412.2,97.2 414.3,97.2 416.5,97.2 418.6,97.2 420.7,97.2 422.8,97.2 425.0,97.2 427.1,97.2 429.2,97.2 431.4,97.2 433.5,97.2 435.6,97.2 437.8,97.2 439.9,97.2 442.0,97.2 444.1,97.2 446.3,97.2 448.4,97.2 450.5,97.2 452.7,97.2 454.8,97.2" fill="none" stroke="#ace6e6" stroke-width="1"/>
<path d="M318.5,97.2 318.6,97.2 318.8,97.2 319.0,97.2 319.2,97.0 319.4,96.8 319.6,96.6 319.8,96.3 320.1,96.1 320.3,95.9 320.5,95.7 320.6,95.6 320.7,95.5 320.9,95.3 321.1,95.3 321.3,95.2 321.5,95.2 321.8,95.2 322.0,95.2 322.2,95.2 322.4,95.2 322.6,95.2 322.7,95.2 322.8,95.2 323.0,95.2 323.3,95.2 323.5,95.2 323.7,95.2 323.9,95.2 324.1,95.2 324.3,95.2 324.5,95.1 324.7,95.1 324.9,95.1 325.0,95.1 325.2,95.1 325.4,95.1 325.6,95.1 325.8,95.1 326.0,95.1 326.2,95.1 326.4,95.1 326.7,95.1 326.9,95.1 327.0,95.1 327.1,95.1 327.3,95.1 329.1,95.1 331.3,95.1 333.4,95.1 335.5,95.1 337.6,95.1 339.8,95.1 341.9,95.1 344.0,95.1 346.2,95.1 348.3,95.1 350.4,95.1 352.6,95.1 354.7,95.1 356.8,95.1 358.9,95.1 361.1,95.1 363.2,95.1 365.3,95.1 367.5,95.1 369.6,95.1 371.7,95.1 373.9,95.1 376.0,95.1 378.1,95.1 380.1,95.1 380.2,95.1 380.4,95.1 380.6,95.1 380.8,95.3 381.0,95.5 381.2,95.7 381.4,95.9 381.6,96.0 381.8,96.2 382.1,96.4 382.3,96.6 382.4,96.7 382.5,96.8 382.7,97.0 382.9,97.0 383.1,97.0 383.3,97.0 383.6,97.0 383.8,97.0 384.0,97.0 384.2,97.1 384.4,97.1 384.5,97.1 384.6,97.1 384.8,97.1 385.0,97.1 385.3,97.1 385.5,97.1 385.7,97.1 385.9,97.1 386.1,97.1 386.3,97.1 386.5,97.1 386.6,97.1 386.7,97.1 387.0,97.1 387.2,97.2 387.4,97.2 387.6,97.2 387.8,97.2 388.0,97.2 388.2,97.2 388.5,97.2 388.7,97.2 388.8,97.2 388.9,97.2 389.1,97.2 390.2,97.2 390.9,97.2 391.2,97.2 392.3,97.2 393.0,97.2 393.3,97.2 394.4,97.2 395.2,97.2 395.5,97.2 396.5,97.2 397.3,97.2 397.6,97.2 398.7,97.2 399.4,97.2 399.7,97.2 400.8,97.2 401.5,97.2 403.7,97.2 405.8,97.2 407.9,97.2 410.1,97.2 412.2,97.2 414.3,97.2 416.5,97.2 418.6,97.2 420.7,97.2 422.8,97.2 425.0,97.2 427.1,97.2 429.2,97.2 431.4,97.2 433.5,97.2 435.6,97.2 437.8,97.2 439.9,97.2 442.0,97.2 444.1,97.2 446.3,97.2 448.4,97.2 450.5,97.2 452.7,97.2 454.8,97.2" fill="none" stroke="#e4b0ea" stroke-width="1.2"/>
<path d="M318.5,97.2 318.6,97.2 318.8,97.2 319.0,97.2 319.2,97.1 319.4,97.1 319.6,97.0 319.8,97.0 320.1,96.9 320.3,96.8 320.5,96.8 320.6,96.7 320.7,96.7 320.9,96.6 321.1,96.6 321.3,96.6 321.5,96.6 321.8,96.6 322.0,96.6 322.2,96.6 322.4,96.6 322.6,96.6 322.7,96.6 322.8,96.6 323.0,96.6 323.3,96.6 323.5,96.6 323.7,96.6 323.9,96.6 324.1,96.6 324.3,96.6 324.5,96.6 324.7,96.6 324.9,96.6 325.0,96.6 325.2,96.6 325.4,96.6 325.6,96.6 325.8,96.6 326.0,96.6 326.2,96.6 326.4,96.6 326.7,96.6 326.9,96.6 327.0,96.6 327.1,96.6 327.3,96.6 329.1,96.6 331.3,96.6 333.4,96.6 335.5,96.6 337.6,96.6 339.8,96.6 341.9,96.6 344.0,96.6 346.2,96.6 348.3,96.6 350.4,96.6 352.6,96.6 354.7,96.6 356.8,96.6 358.9,96.6 361.1,96.6 363.2,96.6 365.3,96.6 367.5,96.6 369.6,96.6 371.7,96.6 373.9,96.6 376.0,96.6 378.1,96.6 380.1,96.6 380.2,96.6 380.4,96.6 380.6,96.6 380.8,96.7 381.0,96.7 381.2,96.8 381.4,96.8 381.6,96.9 381.8,96.9 382.1,97.0 382.3,97.0 382.4,97.1 382.5,97.1 382.7,97.1 382.9,97.1 383.1,97.1 383.3,97.1 383.6,97.1 383.8,97.2 384.0,97.2 384.2,97.2 384.4,97.2 384.5,97.2 384.6,97.2 384.8,97.2 385.0,97.2 385.3,97.2 385.5,97.2 385.7,97.2 385.9,97.2 386.1,97.2 386.3,97.2 386.5,97.2 386.6,97.2 386.7,97.2 387.0,97.2 387.2,97.2 387.4,97.2 387.6,97.2 387.8,97.2 388.0,97.2 388.2,97.2 388.5,97.2 388.7,97.2 388.8,97.2 388.9,97.2 389.1,97.2 390.2,97.2 390.9,97.2 391.2,97.2 392.3,97.2 393.0,97.2 393.3,97.2 394.4,97.2 395.2,97.2 395.5,97.2 396.5,97.2 397.3,97.2 397.6,97.2 398.7,97.2 399.4,97.2 399.7,97.2 400.8,97.2 401.5,97.2 403.7,97.2 405.8,97.2 407.9,97.2 410.1,97.2 412.2,97.2 414.3,97.2 416.5,97.2 418.6,97.2 420.7,97.2 422.8,97.2 425.0,97.2 427.1,97.2 429.2,97.2 431.4,97.2 433.5,97.2 435.6,97.2 437.8,97.2 439.9,97.2 442.0,97.2 444.1,97.2 446.3,97.2 448.4,97.2 450.5,97.2 452.7,97.2 454.8,97.2" fill="none" stroke="#aaa2dc" stroke-width="1.3"/>
<path d="M318.5,97.2 318.6,97.2 318.8,97.2 319.0,97.2 319.2,97.2 319.4,97.2 319.6,97.2 319.8,97.2 320.1,97.1 320.3,97.1 320.5,97.1 320.6,97.1 320.7,97.1 320.9,97.1 321.1,97.1 321.3,97.1 321.5,97.1 321.8,97.1 322.0,97.1 322.2,97.1 322.4,97.1 322.6,97.1 322.7,97.1 322.8,97.1 323.0,97.1 323.3,97.1 323.5,97.1 323.7,97.1 323.9,97.1 324.1,97.1 324.3,97.1 324.5,97.1 324.7,97.1 324.9,97.1 325.0,97.1 325.2,97.1 325.4,97.1 325.6,97.1 325.8,97.1 326.0,97.1 326.2,97.1 326.4,97.1 326.7,97.1 326.9,97.1 327.0,97.1 327.1,97.1 327.3,97.1 329.1,97.1 331.3,97.1 333.4,97.1 335.5,97.1 337.6,97.1 339.8,97.1 341.9,97.1 344.0,97.1 346.2,97.1 348.3,97.1 350.4,97.1 352.6,97.1 354.7,97.1 356.8,97.1 358.9,97.1 361.1,97.1 363.2,97.1 365.3,97.1 367.5,97.1 369.6,97.1 371.7,97.1 373.9,97.1 376.0,97.1 378.1,97.1 380.1,97.1 380.2,97.1 380.4,97.1 380.6,97.1 380.8,97.1 381.0,97.1 381.2,97.1 381.4,97.1 381.6,97.1 381.8,97.1 382.1,97.2 382.3,97.2 382.4,97.2 382.5,97.2 382.7,97.2 382.9,97.2 383.1,97.2 383.3,97.2 383.6,97.2 383.8,97.2 384.0,97.2 384.2,97.2 384.4,97.2 384.5,97.2 384.6,97.2 384.8,97.2 385.0,97.2 385.3,97.2 385.5,97.2 385.7,97.2 385.9,97.2 386.1,97.2 386.3,97.2 386.5,97.2 386.6,97.2 386.7,97.2 387.0,97.2 387.2,97.2 387.4,97.2 387.6,97.2 387.8,97.2 388.0,97.2 388.2,97.2 388.5,97.2 388.7,97.2 388.8,97.2 388.9,97.2 389.1,97.2 390.2,97.2 390.9,97.2 391.2,97.2 392.3,97.2 393.0,97.2 393.3,97.2 394.4,97.2 395.2,97.2 395.5,97.2 396.5,97.2 397.3,97.2 397.6,97.2 398.7,97.2 399.4,97.2 399.7,97.2 400.8,97.2 401.5,97.2 403.7,97.2 405.8,97.2 407.9,97.2 410.1,97.2 412.2,97.2 414.3,97.2 416.5,97.2 418.6,97.2 420.7,97.2 422.8,97.2 425.0,97.2 427.1,97.2 429.2,97.2 431.4,97.2 433.5,97.2 435.6,97.2 437.8,97.2 439.9,97.2 442.0,97.2 444.1,97.2 446.3,97.2 448.4,97.2 450.5,97.2 452.7,97.2 454.8,97.2" fill="none" stroke="#c0a8b8" stroke-width="1"/>
<path d="M318.6,97.2 318.8,97.2 319.0,96.4 319.2,92.9 319.4,89.3 319.6,85.7 319.8,82.2 320.1,78.6 320.3,75.0 320.5,71.5 320.6,69.3 320.7,67.9 320.9,64.4" fill="none" stroke="#888888" stroke-width="1"/>
<path d="M380.6,34.2 380.8,39.7 381.0,45.3 381.2,50.8 381.4,56.4 381.6,61.9 381.8,67.5 382.1,73.0 382.3,78.5 382.4,81.3 382.5,84.1 382.7,89.6 382.9,90.2 383.1,90.7 383.3,91.2 383.6,91.6 383.8,92.1 384.0,92.4 384.2,92.8 384.4,93.1 384.5,93.3 384.6,93.4 384.8,93.7 385.0,94.0 385.3,94.2 385.5,94.4 385.7,94.6 385.9,94.8" fill="none" stroke="#a8aca8" stroke-width="1"/>
<line x1="284.40" y1="97.20" x2="318.99" y2="97.20" stroke="#d4e4d4" stroke-width="1" />
<line x1="284.40" y1="97.20" x2="318.99" y2="97.20" stroke="#b0b0b0" stroke-width="1" stroke-dasharray="3 3"/>
<line x1="385.89" y1="97.20" x2="454.80" y2="97.20" stroke="#b4acac" stroke-width="1" />
<line x1="284.40" y1="25.92" x2="284.40" y2="115.08" stroke="#9c9c9c" stroke-width="1" />
<line x1="284.40" y1="109.08" x2="454.80" y2="109.08" stroke="#9c9c9c" stroke-width="1" />
<line x1="279.40" y1="109.08" x2="286.40" y2="109.08" stroke="#9c9c9c" stroke-width="1" />
<line x1="282.90" y1="103.14" x2="285.90" y2="103.14" stroke="#9c9c9c" stroke-width="1" />
<line x1="279.40" y1="97.20" x2="286.40" y2="97.20" stroke="#9c9c9c" stroke-width="1" />
<line x1="282.90" y1="91.26" x2="285.90" y2="91.26" stroke="#9c9c9c" stroke-width="1" />
<line x1="279.40" y1="85.32" x2="286.40" y2="85.32" stroke="#9c9c9c" stroke-width="1" />
<line x1="282.90" y1="79.38" x2="285.90" y2="79.38" stroke="#9c9c9c" stroke-width="1" />
<line x1="279.40" y1="73.44" x2="286.40" y2="73.44" stroke="#9c9c9c" stroke-width="1" />
<line x1="282.90" y1="67.50" x2="285.90" y2="67.50" stroke="#9c9c9c" stroke-width="1" />
<line x1="279.40" y1="61.56" x2="286.40" y2="61.56" stroke="#9c9c9c" stroke-width="1" />
<line x1="282.90" y1="55.62" x2="285.90" y2="55.62" stroke="#9c9c9c" stroke-width="1" />
<line x1="279.40" y1="49.68" x2="286.40" y2="49.68" stroke="#9c9c9c" stroke-width="1" />
<line x1="282.90" y1="43.74" x2="285.90" y2="43.74" stroke="#9c9c9c" stroke-width="1" />
<line x1="279.40" y1="37.80" x2="286.40" y2="37.80" stroke="#9c9c9c" stroke-width="1" />
<line x1="282.90" y1="31.86" x2="285.90" y2="31.86" stroke="#9c9c9c" stroke-width="1" />
<line x1="279.40" y1="25.92" x2="286.40" y2="25.92" stroke="#9c9c9c" stroke-width="1" />
<text x="276.30" y="40.60" font-family='"Liberation Sans", sans-serif' font-size="10.4" text-anchor="end" fill="#1a1a1a" >100</text>
<text x="276.30" y="64.36" font-family='"Liberation Sans", sans-serif' font-size="10.4" text-anchor="end" fill="#1a1a1a" >60</text>
<text x="276.30" y="88.12" font-family='"Liberation Sans", sans-serif' font-size="10.4" text-anchor="end" fill="#1a1a1a" >20</text>
<text x="276.30" y="111.88" font-family='"Liberation Sans", sans-serif' font-size="10.4" text-anchor="end" fill="#1a1a1a" >-20</text>
<line x1="284.40" y1="107.08" x2="284.40" y2="115.08" stroke="#9c9c9c" stroke-width="1" />
<text x="284.70" y="130.10" font-family='"Liberation Sans", sans-serif' font-size="10.4" text-anchor="middle" fill="#1a1a1a" >40</text>
<line x1="295.05" y1="107.58" x2="295.05" y2="112.08" stroke="#9c9c9c" stroke-width="1" />
<line x1="305.70" y1="107.08" x2="305.70" y2="115.08" stroke="#9c9c9c" stroke-width="1" />
<text x="306.00" y="130.10" font-family='"Liberation Sans", sans-serif' font-size="10.4" text-anchor="middle" fill="#1a1a1a" >50</text>
<line x1="316.35" y1="107.58" x2="316.35" y2="112.08" stroke="#9c9c9c" stroke-width="1" />
<line x1="327.00" y1="107.08" x2="327.00" y2="115.08" stroke="#9c9c9c" stroke-width="1" />
<text x="327.30" y="130.10" font-family='"Liberation Sans", sans-serif' font-size="10.4" text-anchor="middle" fill="#1a1a1a" >60</text>
<line x1="337.65" y1="107.58" x2="337.65" y2="112.08" stroke="#9c9c9c" stroke-width="1" />
<line x1="348.30" y1="107.08" x2="348.30" y2="115.08" stroke="#9c9c9c" stroke-width="1" />
<text x="348.60" y="130.10" font-family='"Liberation Sans", sans-serif' font-size="10.4" text-anchor="middle" fill="#1a1a1a" >70</text>
<line x1="358.95" y1="107.58" x2="358.95" y2="112.08" stroke="#9c9c9c" stroke-width="1" />
<line x1="369.60" y1="107.08" x2="369.60" y2="115.08" stroke="#9c9c9c" stroke-width="1" />
<text x="369.90" y="130.10" font-family='"Liberation Sans", sans-serif' font-size="10.4" text-anchor="middle" fill="#1a1a1a" >80</text>
<line x1="380.25" y1="107.58" x2="380.25" y2="112.08" stroke="#9c9c9c" stroke-width="1" />
<line x1="390.90" y1="107.08" x2="390.90" y2="115.08" stroke="#9c9c9c" stroke-width="1" />
<text x="391.20" y="130.10" font-family='"Liberation Sans", sans-serif' font-size="10.4" text-anchor="middle" fill="#1a1a1a" >90</text>
<line x1="401.55" y1="107.58" x2="401.55" y2="112.08" stroke="#9c9c9c" stroke-width="1" />
<line x1="412.20" y1="107.08" x2="412.20" y2="115.08" stroke="#9c9c9c" stroke-width="1" />
<text x="412.50" y="130.10" font-family='"Liberation Sans", sans-serif' font-size="10.4" text-anchor="middle" fill="#1a1a1a" >100</text>
<line x1="422.85" y1="107.58" x2="422.85" y2="112.08" stroke="#9c9c9c" stroke-width="1" />
<line x1="433.50" y1="107.08" x2="433.50" y2="115.08" stroke="#9c9c9c" stroke-width="1" />
<text x="433.80" y="130.10" font-family='"Liberation Sans", sans-serif' font-size="10.4" text-anchor="middle" fill="#1a1a1a" >110</text>
<line x1="444.15" y1="107.58" x2="444.15" y2="112.08" stroke="#9c9c9c" stroke-width="1" />
<line x1="454.80" y1="107.08" x2="454.80" y2="115.08" stroke="#9c9c9c" stroke-width="1" />
<text x="455.10" y="130.10" font-family='"Liberation Sans", sans-serif' font-size="10.4" text-anchor="middle" fill="#1a1a1a" >120</text>
<text x="351.90" y="147.60" font-family='"Liberation Sans", sans-serif' font-size="10.5" font-weight="bold" text-anchor="middle" fill="#111" >Time</text>
<text x="463.80" y="147.20" font-family='"Liberation Sans", sans-serif' font-size="10" text-anchor="middle" fill="#222" >s</text>
<text x="358.80" y="22.30" font-family='"Liberation Serif", serif' font-size="11.5" font-weight="bold" text-anchor="middle" fill="#111" >GSTαF9 (371-425)</text>
<text x="254.80" y="17.10" font-family='"Liberation Sans", sans-serif' font-size="16.6" font-weight="bold" fill="#000" >B</text>
<line x1="465.20" y1="27.00" x2="481.00" y2="27.00" stroke="#66dd55" stroke-width="1.8" />
<text x="519.20" y="30.00" font-family='"Liberation Serif", serif' font-size="9.8" text-anchor="end" fill="#111" >1000nM</text>
<line x1="465.20" y1="38.24" x2="481.00" y2="38.24" stroke="#6b3d7a" stroke-width="1.8" />
<text x="519.20" y="41.24" font-family='"Liberation Serif", serif' font-size="9.8" text-anchor="end" fill="#111" >500nM</text>
<line x1="465.20" y1="49.48" x2="481.00" y2="49.48" stroke="#808080" stroke-width="1.8" />
<text x="519.20" y="52.48" font-family='"Liberation Serif", serif' font-size="9.8" text-anchor="end" fill="#111" >250nM</text>
<line x1="465.20" y1="60.72" x2="481.00" y2="60.72" stroke="#f0a860" stroke-width="1.8" />
<text x="519.20" y="63.72" font-family='"Liberation Serif", serif' font-size="9.8" text-anchor="end" fill="#111" >125nM</text>
<line x1="465.20" y1="71.96" x2="481.00" y2="71.96" stroke="#50d8d8" stroke-width="1.8" />
<text x="519.20" y="74.96" font-family='"Liberation Serif", serif' font-size="9.8" text-anchor="end" fill="#111" >62.5nM</text>
<line x1="465.20" y1="83.20" x2="481.00" y2="83.20" stroke="#c040e0" stroke-width="1.8" />
<text x="519.20" y="86.20" font-family='"Liberation Serif", serif' font-size="9.8" text-anchor="end" fill="#111" >31.2nM</text>
<line x1="465.20" y1="94.44" x2="481.00" y2="94.44" stroke="#3838d0" stroke-width="1.8" />
<text x="519.20" y="97.44" font-family='"Liberation Serif", serif' font-size="9.8" text-anchor="end" fill="#111" >15.6nM</text>
<line x1="465.20" y1="105.68" x2="481.00" y2="105.68" stroke="#d05050" stroke-width="1.8" />
<text x="516.00" y="108.68" font-family='"Liberation Serif", serif' font-size="9.8" text-anchor="end" fill="#111" >7.8nM</text>
<line x1="57.50" y1="277.08" x2="231.00" y2="277.08" stroke="#e4e4e4" stroke-width="1" />
<line x1="57.50" y1="255.57" x2="231.00" y2="255.57" stroke="#e4e4e4" stroke-width="1" />
<line x1="57.50" y1="234.05" x2="231.00" y2="234.05" stroke="#e4e4e4" stroke-width="1" />
<line x1="57.50" y1="212.53" x2="231.00" y2="212.53" stroke="#e4e4e4" stroke-width="1" />
<line x1="57.50" y1="191.02" x2="231.00" y2="191.02" stroke="#e4e4e4" stroke-width="1" />
<line x1="57.50" y1="169.50" x2="231.00" y2="169.50" stroke="#e4e4e4" stroke-width="1" />
<line x1="57.50" y1="169.50" x2="57.50" y2="298.60" stroke="#9a9a9a" stroke-width="1" />
<line x1="57.50" y1="298.60" x2="231.00" y2="298.60" stroke="#9a9a9a" stroke-width="1" />
<line x1="55.00" y1="298.60" x2="57.50" y2="298.60" stroke="#9a9a9a" stroke-width="1" />
<text x="55.00" y="302.50" font-family='"Liberation Serif", serif' font-size="11.3" text-anchor="end" fill="#111" >0</text>
<line x1="55.00" y1="277.08" x2="57.50" y2="277.08" stroke="#9a9a9a" stroke-width="1" />
<text x="55.00" y="280.98" font-family='"Liberation Serif", serif' font-size="11.3" text-anchor="end" fill="#111" >20</text>
<line x1="55.00" y1="255.57" x2="57.50" y2="255.57" stroke="#9a9a9a" stroke-width="1" />
<text x="55.00" y="259.47" font-family='"Liberation Serif", serif' font-size="11.3" text-anchor="end" fill="#111" >40</text>
<line x1="55.00" y1="234.05" x2="57.50" y2="234.05" stroke="#9a9a9a" stroke-width="1" />
<text x="55.00" y="237.95" font-family='"Liberation Serif", serif' font-size="11.3" text-anchor="end" fill="#111" >60</text>
<line x1="55.00" y1="212.53" x2="57.50" y2="212.53" stroke="#9a9a9a" stroke-width="1" />
<text x="55.00" y="216.43" font-family='"Liberation Serif", serif' font-size="11.3" text-anchor="end" fill="#111" >80</text>
<line x1="55.00" y1="191.02" x2="57.50" y2="191.02" stroke="#9a9a9a" stroke-width="1" />
<text x="55.00" y="194.92" font-family='"Liberation Serif", serif' font-size="11.3" text-anchor="end" fill="#111" >100</text>
<line x1="55.00" y1="169.50" x2="57.50" y2="169.50" stroke="#9a9a9a" stroke-width="1" />
<text x="55.00" y="173.40" font-family='"Liberation Serif", serif' font-size="11.3" text-anchor="end" fill="#111" >120</text>
<line x1="57.50" y1="298.60" x2="57.50" y2="301.10" stroke="#b0b0b0" stroke-width="1" />
<text x="58.00" y="315.00" font-family='"Liberation Serif", serif' font-size="11.3" text-anchor="middle" fill="#111" >0</text>
<line x1="100.88" y1="298.60" x2="100.88" y2="301.10" stroke="#b0b0b0" stroke-width="1" />
<text x="100.88" y="315.00" font-family='"Liberation Serif", serif' font-size="11.3" text-anchor="middle" fill="#111" >12.5</text>
<line x1="144.25" y1="298.60" x2="144.25" y2="301.10" stroke="#b0b0b0" stroke-width="1" />
<text x="146.25" y="315.00" font-family='"Liberation Serif", serif' font-size="11.3" text-anchor="middle" fill="#111" >125</text>
<line x1="187.62" y1="298.60" x2="187.62" y2="301.10" stroke="#b0b0b0" stroke-width="1" />
<text x="187.62" y="315.00" font-family='"Liberation Serif", serif' font-size="11.3" text-anchor="middle" fill="#111" >1250</text>
<line x1="231.00" y1="298.60" x2="231.00" y2="301.10" stroke="#b0b0b0" stroke-width="1" />
<text x="230.30" y="315.00" font-family='"Liberation Serif", serif' font-size="11.3" text-anchor="middle" fill="#111" >6250</text>
<path d="M57.50,191.02 L100.88,217.37 L144.25,219.53 L187.62,271.70 L231.00,289.99" fill="none" stroke="#f014f0" stroke-width="1.25" stroke-linejoin="round"/>
<path d="M57.50,186.82 L61.00,194.17 L54.00,194.17Z" fill="#f014f0"/>
<path d="M100.88,213.17 L104.38,220.52 L97.38,220.52Z" fill="#f014f0"/>
<line x1="144.25" y1="216.30" x2="144.25" y2="222.75" stroke="#2a1a1a" stroke-width="1" />
<line x1="141.45" y1="216.30" x2="147.05" y2="216.30" stroke="#2a1a1a" stroke-width="1.3" />
<line x1="141.45" y1="222.75" x2="147.05" y2="222.75" stroke="#2a1a1a" stroke-width="1.3" />
<path d="M144.25,215.33 L147.75,222.68 L140.75,222.68Z" fill="#f014f0"/>
<path d="M187.62,267.50 L191.12,274.85 L184.12,274.85Z" fill="#f014f0"/>
<path d="M231.00,285.79 L234.50,293.14 L227.50,293.14Z" fill="#f014f0"/>
<path d="M57.50,191.02 L100.88,197.47 L144.25,210.38 L187.62,267.94 L231.00,292.15" fill="none" stroke="#0c0cc4" stroke-width="1.25" stroke-linejoin="round"/>
<rect x="54.50" y="188.02" width="6.0" height="6.0" fill="#0c0cc4"/>
<rect x="97.88" y="194.47" width="6.0" height="6.0" fill="#0c0cc4"/>
<line x1="144.25" y1="208.23" x2="144.25" y2="212.53" stroke="#2a1a1a" stroke-width="1" />
<line x1="141.45" y1="208.23" x2="147.05" y2="208.23" stroke="#2a1a1a" stroke-width="1.3" />
<line x1="141.45" y1="212.53" x2="147.05" y2="212.53" stroke="#2a1a1a" stroke-width="1.3" />
<rect x="141.25" y="207.38" width="6.0" height="6.0" fill="#0c0cc4"/>
<rect x="184.62" y="264.94" width="6.0" height="6.0" fill="#0c0cc4"/>
<rect x="228.00" y="289.15" width="6.0" height="6.0" fill="#0c0cc4"/>
<path d="M57.50,191.02 L100.88,194.78 L144.25,194.24 L187.62,196.93 L231.00,203.39" fill="none" stroke="#108010" stroke-width="1.25" stroke-linejoin="round"/>
<rect x="55.20" y="189.52" width="4.6" height="3" fill="#108010"/>
<rect x="98.58" y="193.28" width="4.6" height="3" fill="#108010"/>
<rect x="141.95" y="192.74" width="4.6" height="3" fill="#108010"/>
<rect x="185.32" y="195.43" width="4.6" height="3" fill="#108010"/>
<rect x="228.70" y="201.89" width="4.6" height="3" fill="#108010"/>
<path d="M57.50,191.02 L100.88,196.40 L144.25,196.40 L187.62,207.15 L231.00,236.74" fill="none" stroke="#3cc8c8" stroke-width="1.25" stroke-linejoin="round"/>
<path d="M54.80,188.32 L60.20,193.72 M60.20,188.32 L54.80,193.72 M57.50,187.82 L57.50,194.22" stroke="#3cc8c8" stroke-width="1.6"/>
<path d="M98.17,193.70 L103.58,199.10 M103.58,193.70 L98.17,199.10 M100.88,193.20 L100.88,199.60" stroke="#3cc8c8" stroke-width="1.6"/>
<path d="M141.55,193.70 L146.95,199.10 M146.95,193.70 L141.55,199.10 M144.25,193.20 L144.25,199.60" stroke="#3cc8c8" stroke-width="1.6"/>
<path d="M184.93,204.45 L190.32,209.85 M190.32,204.45 L184.93,209.85 M187.62,203.95 L187.62,210.35" stroke="#3cc8c8" stroke-width="1.6"/>
<path d="M228.30,234.04 L233.70,239.44 M233.70,234.04 L228.30,239.44 M231.00,233.54 L231.00,239.94" stroke="#3cc8c8" stroke-width="1.6"/>
<path d="M57.50,191.02 L100.88,192.09 L144.25,194.24 L187.62,211.46 L231.00,230.82" fill="none" stroke="#ee1c1c" stroke-width="1.25" stroke-linejoin="round"/>
<path d="M54.80,188.32 L60.20,193.72 M60.20,188.32 L54.80,193.72" stroke="#ee1c1c" stroke-width="1.8"/>
<path d="M98.17,189.39 L103.58,194.79 M103.58,189.39 L98.17,194.79" stroke="#ee1c1c" stroke-width="1.8"/>
<path d="M141.55,191.54 L146.95,196.94 M146.95,191.54 L141.55,196.94" stroke="#ee1c1c" stroke-width="1.8"/>
<path d="M184.93,208.76 L190.32,214.16 M190.32,208.76 L184.93,214.16" stroke="#ee1c1c" stroke-width="1.8"/>
<path d="M228.30,228.12 L233.70,233.52 M233.70,228.12 L228.30,233.52" stroke="#ee1c1c" stroke-width="1.8"/>
<path d="M57.50,191.02 L100.88,192.09 L144.25,193.71 L187.62,197.47 L231.00,217.91" fill="none" stroke="#800000" stroke-width="1.25" stroke-linejoin="round"/>
<path d="M57.50,187.42 L57.50,194.62" stroke="#800000" stroke-width="1.8"/>
<line x1="100.88" y1="188.33" x2="100.88" y2="195.86" stroke="#2a1a1a" stroke-width="1" />
<line x1="98.08" y1="188.33" x2="103.67" y2="188.33" stroke="#2a1a1a" stroke-width="1.3" />
<line x1="98.08" y1="195.86" x2="103.67" y2="195.86" stroke="#2a1a1a" stroke-width="1.3" />
<path d="M100.88,188.49 L100.88,195.69" stroke="#800000" stroke-width="1.8"/>
<line x1="144.25" y1="189.94" x2="144.25" y2="197.47" stroke="#2a1a1a" stroke-width="1" />
<line x1="141.45" y1="189.94" x2="147.05" y2="189.94" stroke="#2a1a1a" stroke-width="1.3" />
<line x1="141.45" y1="197.47" x2="147.05" y2="197.47" stroke="#2a1a1a" stroke-width="1.3" />
<path d="M144.25,190.11 L144.25,197.31" stroke="#800000" stroke-width="1.8"/>
<line x1="187.62" y1="194.78" x2="187.62" y2="200.16" stroke="#2a1a1a" stroke-width="1" />
<line x1="184.82" y1="194.78" x2="190.43" y2="194.78" stroke="#2a1a1a" stroke-width="1.3" />
<line x1="184.82" y1="200.16" x2="190.43" y2="200.16" stroke="#2a1a1a" stroke-width="1.3" />
<path d="M187.62,193.87 L187.62,201.07" stroke="#800000" stroke-width="1.8"/>
<line x1="231.00" y1="210.92" x2="231.00" y2="224.91" stroke="#2a1a1a" stroke-width="1" />
<line x1="228.20" y1="210.92" x2="233.80" y2="210.92" stroke="#2a1a1a" stroke-width="1.3" />
<line x1="228.20" y1="224.91" x2="233.80" y2="224.91" stroke="#2a1a1a" stroke-width="1.3" />
<path d="M231.00,214.31 L231.00,221.51" stroke="#800000" stroke-width="1.8"/>
<path d="M57.50,191.02 L100.88,199.62 L144.25,199.95 L187.62,212.00 L231.00,248.04" fill="none" stroke="#7a0a82" stroke-width="1.25" stroke-linejoin="round"/>
<circle cx="57.50" cy="191.02" r="2.8" fill="#7a0a82"/>
<line x1="100.88" y1="193.71" x2="100.88" y2="205.54" stroke="#2a1a1a" stroke-width="1" />
<line x1="98.08" y1="193.71" x2="103.67" y2="193.71" stroke="#2a1a1a" stroke-width="1.3" />
<line x1="98.08" y1="205.54" x2="103.67" y2="205.54" stroke="#2a1a1a" stroke-width="1.3" />
<circle cx="100.88" cy="199.62" r="2.8" fill="#7a0a82"/>
<circle cx="144.25" cy="199.95" r="2.8" fill="#7a0a82"/>
<line x1="187.62" y1="208.77" x2="187.62" y2="215.22" stroke="#2a1a1a" stroke-width="1" />
<line x1="184.82" y1="208.77" x2="190.43" y2="208.77" stroke="#2a1a1a" stroke-width="1.3" />
<line x1="184.82" y1="215.22" x2="190.43" y2="215.22" stroke="#2a1a1a" stroke-width="1.3" />
<circle cx="187.62" cy="212.00" r="2.8" fill="#7a0a82"/>
<line x1="231.00" y1="244.27" x2="231.00" y2="251.80" stroke="#2a1a1a" stroke-width="1" />
<line x1="228.20" y1="244.27" x2="233.80" y2="244.27" stroke="#2a1a1a" stroke-width="1.3" />
<line x1="228.20" y1="251.80" x2="233.80" y2="251.80" stroke="#2a1a1a" stroke-width="1.3" />
<circle cx="231.00" cy="248.04" r="2.8" fill="#7a0a82"/>
<text x="4.90" y="161.60" font-family='"Liberation Sans", sans-serif' font-size="18" font-weight="bold" fill="#000" >C</text>
<line x1="270.50" y1="278.42" x2="454.50" y2="278.42" stroke="#e4e4e4" stroke-width="1" />
<line x1="270.50" y1="256.63" x2="454.50" y2="256.63" stroke="#e4e4e4" stroke-width="1" />
<line x1="270.50" y1="234.85" x2="454.50" y2="234.85" stroke="#e4e4e4" stroke-width="1" />
<line x1="270.50" y1="213.07" x2="454.50" y2="213.07" stroke="#e4e4e4" stroke-width="1" />
<line x1="270.50" y1="191.28" x2="454.50" y2="191.28" stroke="#e4e4e4" stroke-width="1" />
<line x1="270.50" y1="169.50" x2="454.50" y2="169.50" stroke="#e4e4e4" stroke-width="1" />
<line x1="270.50" y1="169.50" x2="270.50" y2="300.20" stroke="#9a9a9a" stroke-width="1" />
<line x1="270.50" y1="300.20" x2="454.50" y2="300.20" stroke="#9a9a9a" stroke-width="1" />
<line x1="268.00" y1="300.20" x2="270.50" y2="300.20" stroke="#9a9a9a" stroke-width="1" />
<text x="271.20" y="304.10" font-family='"Liberation Serif", serif' font-size="11.6" text-anchor="end" fill="#111" >0</text>
<line x1="268.00" y1="278.42" x2="270.50" y2="278.42" stroke="#9a9a9a" stroke-width="1" />
<text x="266.60" y="282.32" font-family='"Liberation Serif", serif' font-size="11.6" text-anchor="end" fill="#111" >20</text>
<line x1="268.00" y1="256.63" x2="270.50" y2="256.63" stroke="#9a9a9a" stroke-width="1" />
<text x="266.60" y="260.53" font-family='"Liberation Serif", serif' font-size="11.6" text-anchor="end" fill="#111" >40</text>
<line x1="268.00" y1="234.85" x2="270.50" y2="234.85" stroke="#9a9a9a" stroke-width="1" />
<text x="266.60" y="238.75" font-family='"Liberation Serif", serif' font-size="11.6" text-anchor="end" fill="#111" >60</text>
<line x1="268.00" y1="213.07" x2="270.50" y2="213.07" stroke="#9a9a9a" stroke-width="1" />
<text x="266.60" y="216.97" font-family='"Liberation Serif", serif' font-size="11.6" text-anchor="end" fill="#111" >80</text>
<line x1="268.00" y1="191.28" x2="270.50" y2="191.28" stroke="#9a9a9a" stroke-width="1" />
<text x="266.60" y="195.18" font-family='"Liberation Serif", serif' font-size="11.6" text-anchor="end" fill="#111" >100</text>
<line x1="268.00" y1="169.50" x2="270.50" y2="169.50" stroke="#9a9a9a" stroke-width="1" />
<text x="266.60" y="173.40" font-family='"Liberation Serif", serif' font-size="11.6" text-anchor="end" fill="#111" >120</text>
<line x1="270.50" y1="300.20" x2="270.50" y2="302.70" stroke="#b0b0b0" stroke-width="1" />
<text x="271.00" y="316.20" font-family='"Liberation Serif", serif' font-size="11.6" text-anchor="middle" fill="#111" >0</text>
<line x1="316.50" y1="300.20" x2="316.50" y2="302.70" stroke="#b0b0b0" stroke-width="1" />
<text x="315.50" y="316.20" font-family='"Liberation Serif", serif' font-size="11.6" text-anchor="middle" fill="#111" >12.5</text>
<line x1="362.50" y1="300.20" x2="362.50" y2="302.70" stroke="#b0b0b0" stroke-width="1" />
<text x="361.50" y="316.20" font-family='"Liberation Serif", serif' font-size="11.6" text-anchor="middle" fill="#111" >125</text>
<line x1="408.50" y1="300.20" x2="408.50" y2="302.70" stroke="#b0b0b0" stroke-width="1" />
<text x="408.50" y="316.20" font-family='"Liberation Serif", serif' font-size="11.6" text-anchor="middle" fill="#111" >1250</text>
<line x1="454.50" y1="300.20" x2="454.50" y2="302.70" stroke="#b0b0b0" stroke-width="1" />
<text x="457.10" y="316.20" font-family='"Liberation Serif", serif' font-size="11.6" text-anchor="middle" fill="#111" >6250</text>
<path d="M270.50,191.28 L316.50,198.36 L362.50,208.71 L408.50,268.61 L454.50,292.79" fill="none" stroke="#0c0cc4" stroke-width="1.3" stroke-linejoin="round"/>
<rect x="268.04" y="188.82" width="4.92" height="4.92" fill="#0c0cc4"/>
<rect x="314.04" y="195.90" width="4.92" height="4.92" fill="#0c0cc4"/>
<rect x="360.04" y="206.25" width="4.92" height="4.92" fill="#0c0cc4"/>
<rect x="406.04" y="266.15" width="4.92" height="4.92" fill="#0c0cc4"/>
<line x1="454.50" y1="291.16" x2="454.50" y2="294.43" stroke="#2a1a1a" stroke-width="1" />
<line x1="451.70" y1="291.16" x2="457.30" y2="291.16" stroke="#2a1a1a" stroke-width="1.3" />
<line x1="451.70" y1="294.43" x2="457.30" y2="294.43" stroke="#2a1a1a" stroke-width="1.3" />
<rect x="452.04" y="290.33" width="4.92" height="4.92" fill="#0c0cc4"/>
<path d="M270.50,191.28 L316.50,206.53 L362.50,209.80 L408.50,267.52 L454.50,299.55" fill="none" stroke="#a0a0a0" stroke-width="1.2" stroke-linejoin="round"/>
<path d="M270.50,187.84 L273.37,193.87 L267.63,193.87Z" fill="#a0a0a0"/>
<line x1="316.50" y1="204.90" x2="316.50" y2="208.17" stroke="#2a1a1a" stroke-width="1" />
<line x1="313.70" y1="204.90" x2="319.30" y2="204.90" stroke="#2a1a1a" stroke-width="1.3" />
<line x1="313.70" y1="208.17" x2="319.30" y2="208.17" stroke="#2a1a1a" stroke-width="1.3" />
<path d="M316.50,203.09 L319.37,209.11 L313.63,209.11Z" fill="#a0a0a0"/>
<path d="M362.50,206.36 L365.37,212.38 L359.63,212.38Z" fill="#a0a0a0"/>
<path d="M408.50,264.08 L411.37,270.11 L405.63,270.11Z" fill="#a0a0a0"/>
<path d="M454.50,296.10 L457.37,302.13 L451.63,302.13Z" fill="#a0a0a0"/>
<path d="M270.50,191.28 L316.50,199.45 L362.50,205.99 L408.50,243.56 L454.50,286.69" fill="none" stroke="#000000" stroke-width="1.25" stroke-linejoin="round"/>
<circle cx="270.50" cy="191.28" r="2.296" fill="#000000"/>
<circle cx="316.50" cy="199.45" r="2.296" fill="#000000"/>
<line x1="362.50" y1="204.35" x2="362.50" y2="207.62" stroke="#2a1a1a" stroke-width="1" />
<line x1="359.70" y1="204.35" x2="365.30" y2="204.35" stroke="#2a1a1a" stroke-width="1.3" />
<line x1="359.70" y1="207.62" x2="365.30" y2="207.62" stroke="#2a1a1a" stroke-width="1.3" />
<circle cx="362.50" cy="205.99" r="2.296" fill="#000000"/>
<circle cx="408.50" cy="243.56" r="2.296" fill="#000000"/>
<circle cx="454.50" cy="286.69" r="2.296" fill="#000000"/>
<text x="256.40" y="161.60" font-family='"Liberation Sans", sans-serif' font-size="16.6" font-weight="bold" fill="#000" >D</text>
<line x1="470.50" y1="174.00" x2="499.00" y2="174.00" stroke="#0c0cc4" stroke-width="1.8" />
<rect x="482.00" y="171.00" width="6.0" height="6.0" fill="#0c0cc4"/>
<text x="502.00" y="178.00" font-family='"Liberation Serif", serif' font-size="11.3" fill="#111" textLength="15.6" lengthAdjust="spacingAndGlyphs">αF1</text>
<line x1="470.50" y1="192.30" x2="499.00" y2="192.30" stroke="#f014f0" stroke-width="1.8" />
<path d="M485.00,188.10 L488.50,195.45 L481.50,195.45Z" fill="#f014f0"/>
<text x="502.00" y="196.30" font-family='"Liberation Serif", serif' font-size="11.3" fill="#111" textLength="15.6" lengthAdjust="spacingAndGlyphs">αF2</text>
<line x1="470.50" y1="211.10" x2="499.00" y2="211.10" stroke="#ee1c1c" stroke-width="1.8" />
<path d="M482.30,208.40 L487.70,213.80 M487.70,208.40 L482.30,213.80" stroke="#ee1c1c" stroke-width="1.8"/>
<text x="502.00" y="215.10" font-family='"Liberation Serif", serif' font-size="11.3" fill="#111" textLength="15.6" lengthAdjust="spacingAndGlyphs">αF3</text>
<line x1="470.50" y1="229.30" x2="499.00" y2="229.30" stroke="#3cc8c8" stroke-width="1.8" />
<path d="M482.30,226.60 L487.70,232.00 M487.70,226.60 L482.30,232.00 M485.00,226.10 L485.00,232.50" stroke="#3cc8c8" stroke-width="1.6"/>
<text x="502.00" y="233.30" font-family='"Liberation Serif", serif' font-size="11.3" fill="#111" textLength="15.6" lengthAdjust="spacingAndGlyphs">αF4</text>
<line x1="470.50" y1="247.80" x2="499.00" y2="247.80" stroke="#7a0a82" stroke-width="1.8" />
<circle cx="485.00" cy="247.80" r="2.8" fill="#7a0a82"/>
<text x="502.00" y="251.80" font-family='"Liberation Serif", serif' font-size="11.3" fill="#111" textLength="15.6" lengthAdjust="spacingAndGlyphs">αF5</text>
<line x1="470.50" y1="265.70" x2="499.00" y2="265.70" stroke="#800000" stroke-width="1.8" />
<path d="M485.00,262.10 L485.00,269.30" stroke="#800000" stroke-width="1.8"/>
<text x="502.00" y="269.70" font-family='"Liberation Serif", serif' font-size="11.3" fill="#111" textLength="15.6" lengthAdjust="spacingAndGlyphs">αF6</text>
<line x1="470.50" y1="284.60" x2="499.00" y2="284.60" stroke="#108010" stroke-width="1.8" />
<rect x="482.70" y="283.10" width="4.6" height="3" fill="#108010"/>
<text x="502.00" y="288.60" font-family='"Liberation Serif", serif' font-size="11.3" fill="#111" textLength="15.6" lengthAdjust="spacingAndGlyphs">αF7</text>
<line x1="473.00" y1="305.20" x2="499.00" y2="305.20" stroke="#a0a0a0" stroke-width="1.8" />
<path d="M485.00,301.00 L488.50,308.35 L481.50,308.35Z" fill="#a0a0a0"/>
<text x="502.00" y="309.20" font-family='"Liberation Serif", serif' font-size="11.3" fill="#111" textLength="15.6" lengthAdjust="spacingAndGlyphs">αF8</text>
<line x1="470.50" y1="323.30" x2="499.00" y2="323.30" stroke="#000000" stroke-width="1.8" />
<circle cx="485.00" cy="323.30" r="2.8" fill="#000000"/>
<text x="502.00" y="327.30" font-family='"Liberation Serif", serif' font-size="11.3" fill="#111" textLength="15.6" lengthAdjust="spacingAndGlyphs">αF9</text>
<text x="0.00" y="0.00" font-family='"Liberation Serif", serif' font-size="11.55" text-anchor="middle" fill="#111" transform="translate(15.6,71.6) rotate(-90)">Response unit (RU)</text>
<text x="0.00" y="0.00" font-family='"Liberation Serif", serif' font-size="11.2" text-anchor="middle" fill="#111" transform="translate(21.4,241.4) rotate(-90)">Percentage binding of rFXIII-a to</text>
<text x="0.00" y="0.00" font-family='"Liberation Serif", serif' font-size="11.1" text-anchor="middle" fill="#111" transform="translate(35.1,241.5) rotate(-90)">GSTαF1</text>
<text x="143.00" y="328.50" font-family='"Liberation Serif", serif' font-size="11.4" text-anchor="middle" fill="#111" >Concentration of α fragment (nM)</text>
<text x="365.50" y="330.50" font-family='"Liberation Serif", serif' font-size="11.3" text-anchor="middle" fill="#111" >Concentration of α fragment (nM)</text>
</svg></body></html>
